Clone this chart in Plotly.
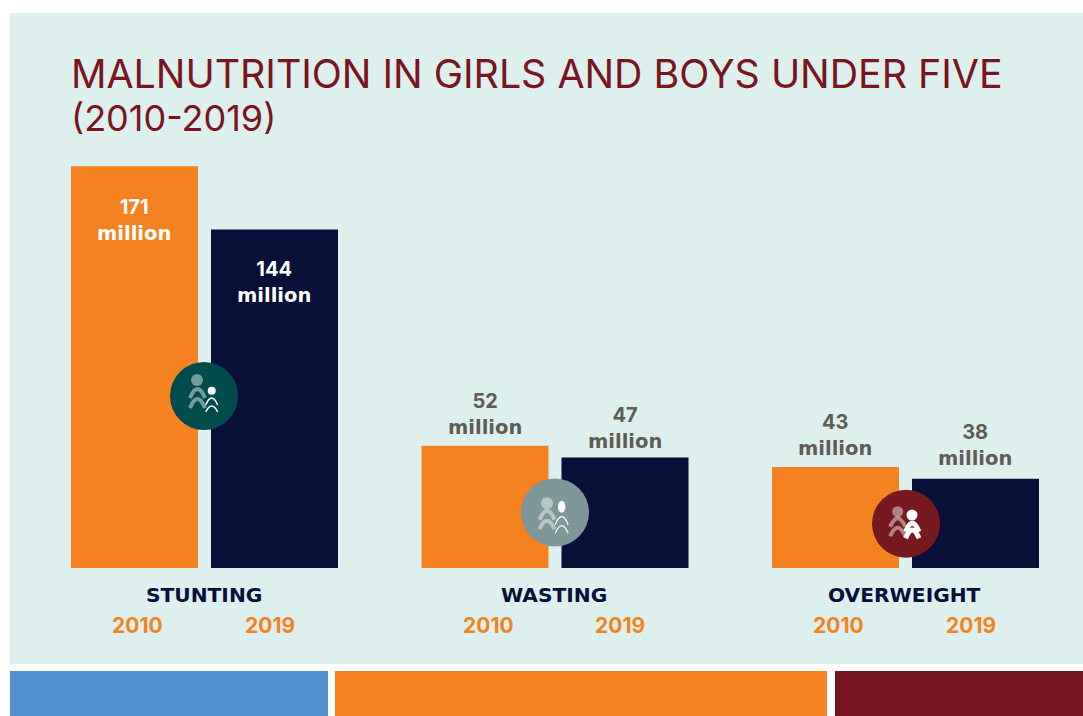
import plotly.graph_objects as go

categories = ["STUNTING", "WASTING", "OVERWEIGHT"]
years = ["2010", "2019"]
values_2010 = [171, 52, 43]
values_2019 = [144, 47, 38]
value_unit = "million"

W, H = 1083, 716
ORANGE, NAVY, BG, MAROON, BLUE = "#F58220", "#080F38", "#DDF0ED", "#7A1420", "#5090CE"
GREY = "#5F5B55"
FONT = "Inter"
WIDE = "DejaVu Sans"

fx = lambda p: p / W
fy = lambda p: 1 - p / H

def rect(x0, y0, x1, y1, color, layer="below"):
    return dict(type="rect", xref="paper", yref="paper", x0=fx(x0), x1=fx(x1), y0=fy(y0), y1=fy(y1),
                fillcolor=color, line_width=0, layer=layer)

def disc(cx, cy, rx, ry, color, opacity=1):
    return dict(type="circle", xref="paper", yref="paper", x0=fx(cx - rx), x1=fx(cx + rx),
                y0=fy(cy + ry), y1=fy(cy - ry), fillcolor=color, opacity=opacity, line_width=0, layer="above")

def arch(cx, top, half, drop, color, width, opacity=1):
    pts = f"M {fx(cx-half)} {fy(top+drop)} Q {fx(cx)} {fy(top-drop)} {fx(cx+half)} {fy(top+drop)}"
    return dict(type="path", xref="paper", yref="paper", path=pts, fillcolor="rgba(0,0,0,0)",
                opacity=opacity, line=dict(color=color, width=width), layer="above")

shapes = [
    rect(10, 13, W, 664, BG),
    rect(10, 671, 328, 716, BLUE),
    rect(335, 671, 827, 716, ORANGE),
    rect(835, 671, W, 716, "#761320"),
]

# icon 1
shapes += [disc(204, 396, 34, 34, "#004B4C"),
           disc(197, 380, 6, 6, "#FFFFFF", 0.45),
           arch(197.5, 389, 7.5, 9, "#FFFFFF", 4, 0.45), arch(197.5, 399, 7.5, 9, "#FFFFFF", 4, 0.45),
           disc(211.7, 390.7, 4, 4, "#FFFFFF"),
           arch(211.7, 398, 6, 7, "#FFFFFF", 1.5), arch(211.7, 406, 6, 6, "#FFFFFF", 1.5)]
# icon 2
shapes += [disc(555, 512.5, 34, 34, "#7E9799"),
           disc(547, 503.3, 6, 6, "#FFFFFF", 0.45),
           arch(547, 510.7, 7.5, 9, "#FFFFFF", 4, 0.45), arch(547, 520.7, 7.5, 8.5, "#FFFFFF", 4, 0.45),
           disc(561.7, 506.7, 3.7, 6, "#FFFFFF"),
           arch(561.7, 516.7, 6.5, 8, "#FFFFFF", 1.2), arch(561.7, 525.7, 6.5, 7.5, "#FFFFFF", 1.2)]
# icon 3
shapes += [disc(906, 523.7, 34, 34, "#761A20"),
           disc(897.7, 511.7, 5.5, 5.5, "#FFFFFF", 0.45),
           arch(897.7, 518.3, 7.5, 8.5, "#FFFFFF", 4, 0.45), arch(897.7, 527.7, 7.5, 8.5, "#FFFFFF", 4, 0.45),
           disc(912, 515, 5.5, 5.5, "#FFFFFF"),
           arch(912.3, 523.3, 6.7, 8.4, "#FFFFFF", 5), arch(912.3, 530, 6.7, 8.3, "#FFFFFF", 5)]

fig = go.Figure()
for year, vals, col in zip(years, [values_2010, values_2019], [ORANGE, NAVY]):
    fig.add_trace(go.Bar(x=categories, y=vals, name=year, marker=dict(color=col, line_width=0), hoverinfo="x+y"))

ann = [
    dict(xref="paper", yref="paper", x=fx(68.5), y=fy(73), text="MALNUTRITION IN GIRLS AND BOYS UNDER FIVE", showarrow=False,
         xanchor="left", yanchor="middle", font=dict(family=FONT, size=39.3, color=MAROON)),
    dict(xref="paper", yref="paper", x=fx(68.5), y=fy(118), text="(2010-2019)", showarrow=False,
         xanchor="left", yanchor="middle", font=dict(family=FONT, size=36, color=MAROON)),
]
nudges = {171: -1, 144: 1, 52: 0, 47: -2, 43: 0, 38: 2}
for cat, v10, v19 in zip(categories, values_2010, values_2019):
    for v, shift in ((v10, -70.5), (v19, 69.5)):
        inside = v > 100
        txt = f'<b>{v}<br><span style="font-family:{WIDE};font-size:19.5px">{value_unit}</span></b>'
        ann.append(dict(x=cat, y=v, text=txt, showarrow=False, xshift=shift,
                        yanchor="top" if inside else "bottom", yshift=(-26 if inside else 5) + nudges[v],
                        font=dict(family=FONT, size=20, color="#FFFFFF" if inside else GREY)))
    ann.append(dict(x=cat, xref="x", yref="paper", y=fy(595), yanchor="middle", showarrow=False, xshift=-1,
                    text=f"<b>{cat}</b>", font=dict(family=WIDE, size=20.2, color=NAVY)))
    ann.append(dict(x=cat, xref="x", yref="paper", y=fy(625), yanchor="middle", showarrow=False, xshift=-67,
                    text=f"<b>{years[0]}</b>", font=dict(family=FONT, size=21, color=ORANGE)))
    ann.append(dict(x=cat, xref="x", yref="paper", y=fy(625), yanchor="middle", showarrow=False, xshift=65,
                    text=f"<b>{years[1]}</b>", font=dict(family=FONT, size=21, color=ORANGE)))

fig.update_layout(
    width=W, height=H, margin=dict(l=0, r=0, t=0, b=0), autosize=False,
    paper_bgcolor="#FFFFFF", plot_bgcolor="rgba(0,0,0,0)", showlegend=False,
    barmode="group", bargap=0.2011, bargroupgap=0.0929,
    xaxis=dict(range=[-204.5 / 350.5, (W - 204.5) / 350.5], visible=False, type="category",
               categoryorder="array", categoryarray=categories),
    yaxis=dict(range=[-(H - 568) / 2.35, 568 / 2.35], visible=False),
    shapes=shapes, annotations=ann,
)
fig.write_html("out.html", post_script="document.body.style.margin='0';document.body.style.overflow='hidden';",
               config={"displayModeBar": False})
